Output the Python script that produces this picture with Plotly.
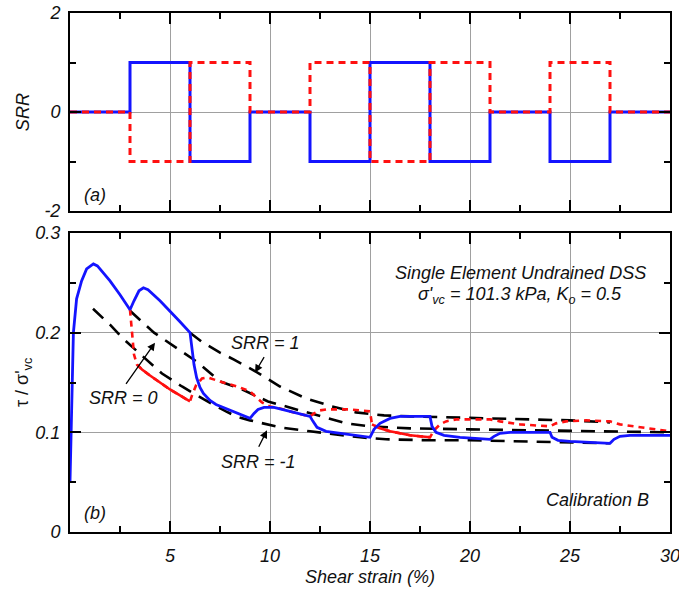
import plotly.graph_objects as go
from plotly.subplots import make_subplots

# ---- (a) shear rate reversal history: SRR held constant over each 3 % strain block
block_edges = [0, 3, 6, 9, 12, 15, 18, 21, 24, 27, 30]
srr_blue = [0, 1, -1, 0, -1, 1, -1, 0, -1, 0]
srr_red = [0, -1, 1, 0, 1, -1, 1, 0, 1, 0]

# ---- (b) normalised shear stress vs shear strain
blue_strain = [0, 0.05, 0.1, 0.17, 0.33, 0.58, 0.83, 1.17, 1.37, 2.0, 2.5, 3.0,
               3.2, 3.45, 3.67, 3.9, 4.5, 5.0, 5.5, 6.0, 6.1, 6.2, 6.33, 6.5,
               6.67, 7.0, 7.3, 8.0, 8.5, 9.0, 9.2, 9.4, 9.7, 10.2, 11.0, 12.0,
               12.15, 12.35, 12.8, 13.5, 14.2, 15.0, 15.2, 15.5, 16.0, 16.5,
               18.0, 18.1, 18.3, 18.7, 19.5, 21.0, 21.2, 21.5, 22.0, 24.0,
               24.1, 24.4, 25.0, 27.0, 27.2, 27.5, 28.0, 30.0]
blue_tau = [0.050, 0.100, 0.140, 0.200, 0.234, 0.252, 0.264, 0.269, 0.267, 0.252,
            0.238, 0.223, 0.232, 0.242, 0.245, 0.243, 0.232, 0.222, 0.211, 0.200,
            0.185, 0.168, 0.155, 0.145, 0.139, 0.132, 0.128, 0.122, 0.118, 0.114,
            0.119, 0.123, 0.125, 0.125, 0.121, 0.116, 0.111, 0.105, 0.101, 0.099,
            0.097, 0.095, 0.103, 0.109, 0.114, 0.116, 0.116, 0.106, 0.100, 0.097,
            0.095, 0.093, 0.096, 0.099, 0.100, 0.100, 0.095, 0.092, 0.091, 0.089,
            0.093, 0.096, 0.097, 0.097]

red_strain = [3.0, 3.05, 3.1, 3.2, 3.35, 3.6, 4.0, 4.5, 5.0, 5.5, 6.0, 6.1, 6.3,
              6.6, 6.9, 7.5, 8.0, 8.5, 9.0, 9.3, 9.6, 10.0, 10.5, 11.0, 12.0,
              12.2, 12.5, 12.8, 14.0, 15.0, 15.05, 15.1, 15.5, 16.0, 17.0, 18.0,
              18.2, 18.5, 18.8, 19.3, 21.0, 21.5, 22.5, 24.0, 24.3, 24.8, 25.8,
              27.0, 27.5, 28.5, 30.0]
red_tau = [0.223, 0.210, 0.195, 0.178, 0.168, 0.163, 0.157, 0.150, 0.143, 0.137,
           0.131, 0.137, 0.147, 0.154, 0.155, 0.151, 0.148, 0.145, 0.141, 0.135,
           0.130, 0.126, 0.124, 0.121, 0.116, 0.119, 0.122, 0.123, 0.123, 0.121,
           0.115, 0.108, 0.104, 0.101, 0.097, 0.095, 0.102, 0.108, 0.111, 0.113,
           0.113, 0.111, 0.108, 0.106, 0.109, 0.111, 0.112, 0.111, 0.108, 0.105,
           0.101]
# strain windows where the red case is sheared at SRR = -1 (drawn solid)
red_solid_windows = [(3.35, 6.0), (15.1, 18.0)]

# constant-SRR reference responses
ref_srr1_strain = [6.0, 6.65, 7.5, 8.2, 9.2, 10.5, 11.8, 13.1, 14.3, 15.7, 17.0,
                   19.0, 21.0, 23.0, 25.0, 27.0]
ref_srr1_tau = [0.200, 0.190, 0.180, 0.173, 0.162, 0.146, 0.134, 0.126, 0.120,
                0.117, 0.116, 0.115, 0.114, 0.113, 0.112, 0.110]
ref_srr0_strain = [3.0, 4.2, 5.3, 6.4, 7.5, 8.5, 9.9, 11.8, 13.8, 15.0, 17.0,
                   20.0, 23.0, 26.0, 30.0]
ref_srr0_tau = [0.222, 0.200, 0.185, 0.170, 0.151, 0.144, 0.131, 0.120, 0.109,
                0.106, 0.104, 0.103, 0.102, 0.101, 0.100]
ref_srrm1_strain = [1.15, 2.0, 2.65, 3.7, 4.6, 5.6, 6.7, 7.8, 8.3, 9.0, 10.5,
                    12.0, 13.3, 14.5, 15.8, 18.0, 20.0, 23.0, 25.0, 27.0]
ref_srrm1_tau = [0.224, 0.208, 0.194, 0.175, 0.159, 0.146, 0.133, 0.121, 0.116,
                 0.112, 0.105, 0.101, 0.098, 0.095, 0.093, 0.092, 0.092, 0.091,
                 0.090, 0.089]

BLUE = "#1414ff"
RED = "#ff1010"
FONT = "Liberation Sans"
INK = "#111111"

fig = make_subplots(rows=2, cols=1, shared_xaxes=False, vertical_spacing=0.0)

# step histories (hv steps through block edges)
fig.add_trace(go.Scatter(x=block_edges, y=srr_blue + [srr_blue[-1]], mode="lines",
                         line=dict(color=BLUE, width=3, shape="hv")), row=1, col=1)
fig.add_trace(go.Scatter(x=block_edges, y=srr_red + [srr_red[-1]], mode="lines",
                         line=dict(color=RED, width=3, shape="hv", dash="7px,5px")),
              row=1, col=1)

# reference curves
for xs, ys in [(ref_srr1_strain, ref_srr1_tau), (ref_srr0_strain, ref_srr0_tau),
               (ref_srrm1_strain, ref_srrm1_tau)]:
    fig.add_trace(go.Scatter(x=xs, y=ys, mode="lines",
                             line=dict(color="black", width=2.6, dash="14px,9px")),
                  row=2, col=1)

# red response: dashed overall, solid during SRR = -1 shearing
fig.add_trace(go.Scatter(x=red_strain, y=red_tau, mode="lines",
                         line=dict(color=RED, width=2.6, dash="6px,5px")), row=2, col=1)
for lo, hi in red_solid_windows:
    sx = [x for x in red_strain if lo <= x <= hi]
    sy = [y for x, y in zip(red_strain, red_tau) if lo <= x <= hi]
    fig.add_trace(go.Scatter(x=sx, y=sy, mode="lines",
                             line=dict(color=RED, width=2.6)), row=2, col=1)

fig.add_trace(go.Scatter(x=blue_strain, y=blue_tau, mode="lines",
                         line=dict(color=BLUE, width=2.8)), row=2, col=1)

tickfont = dict(family=FONT, size=18, color=INK, style="italic")
axis_common = dict(showline=True, linecolor="black", linewidth=2, mirror="ticks",
                   ticks="inside", ticklen=11, tickwidth=2, tickcolor="black",
                   showgrid=True, gridcolor="#a0a0a0", gridwidth=1, zeroline=False,
                   automargin=False, tickfont=tickfont, ticklabeloverflow="allow")

fig.update_xaxes(range=[0, 30], tickvals=[5, 10, 15, 20, 25, 30],
                 ticktext=["5", "10", "15", "20", "25", "30"],
                 minor=dict(ticks="inside", ticklen=6, tickwidth=2,
                            tickcolor="black", dtick=2.5, tick0=0, showgrid=False),
                 **axis_common)
fig.update_xaxes(showticklabels=False, row=1, col=1)
fig.update_xaxes(ticklabelstandoff=6, row=2, col=1)

fig.update_yaxes(range=[-2, 2], tickvals=[-2, 0, 2], ticktext=["-2", "0", "2"],
                 minor=dict(ticks="inside", ticklen=6, tickwidth=2,
                            tickcolor="black", dtick=1, tick0=0, showgrid=False),
                 row=1, col=1, **axis_common)
fig.update_yaxes(range=[0, 0.3], tickvals=[0, 0.1, 0.2, 0.3],
                 ticktext=["0", "0.1", "0.2", "0.3"],
                 minor=dict(ticks="inside", ticklen=6, tickwidth=2,
                            tickcolor="black", dtick=0.05, tick0=0, showgrid=False),
                 row=2, col=1, **axis_common)
fig.update_yaxes(ticklabelstandoff=4)

fig.update_layout(
    xaxis=dict(domain=[0, 1]), xaxis2=dict(domain=[0, 1]),
    yaxis=dict(domain=[0.6185, 1.0]), yaxis2=dict(domain=[0.0, 0.5761]),
)

ital = dict(family=FONT, size=18, color=INK)
ann = []
# panel letters
ann.append(dict(x=1.25, y=-1.68, xref="x", yref="y", text="<i>(a)</i>",
                showarrow=False, font=ital))
ann.append(dict(x=1.25, y=0.019, xref="x2", yref="y2", text="<i>(b)</i>",
                showarrow=False, font=ital))
# test description
ann.append(dict(x=22.5, y=0.26, xref="x2", yref="y2",
                text="<i>Single Element Undrained DSS</i>", showarrow=False, font=ital))
ann.append(dict(x=22.5, y=0.237, xref="x2", yref="y2",
                text="<i>σ'<sub>vc</sub> = 101.3 kPa, K<sub>o</sub> = 0.5</i>",
                showarrow=False, font=ital))
ann.append(dict(x=26.35, y=0.032, xref="x2", yref="y2",
                text="<i>Calibration B</i>", showarrow=False, font=ital))
# reference curve labels with pointers
for label, (tx, ty), (ax0, ay0), (hx, hy) in [
    ("SRR = 1", (9.75, 0.19), (9.75, 0.177), (9.25, 0.160)),
    ("SRR = 0", (2.65, 0.134), (2.75, 0.147), (4.25, 0.190)),
    ("SRR = -1", (9.4, 0.070), (9.4, 0.084), (9.85, 0.102)),
]:
    ann.append(dict(x=tx, y=ty, xref="x2", yref="y2", text=f"<i>{label}</i>",
                    showarrow=False, font=ital))
    ann.append(dict(x=hx, y=hy, xref="x2", yref="y2", ax=ax0, ay=ay0,
                    axref="x2", ayref="y2", text="", showarrow=True,
                    arrowhead=2, arrowsize=1.2, arrowwidth=1.3, arrowcolor="black"))
# axis titles
ann.append(dict(x=0, y=0.809, xref="paper", yref="paper", text="<i>SRR</i>",
                xanchor="center", yanchor="middle",
                xshift=-47, textangle=-90, showarrow=False, font=ital))
ann.append(dict(x=0, y=0.287, xref="paper", yref="paper",
                text="τ / σ'<sub>vc</sub>", xanchor="center", yanchor="middle",
                xshift=-47, textangle=-90, showarrow=False, font=ital))
ann.append(dict(x=0.5, y=0, xref="paper", yref="paper", yshift=-45,
                xanchor="center", yanchor="middle",
                text="<i>Shear strain (%)</i>", showarrow=False, font=ital))

fig.update_layout(
    annotations=ann,
    width=679, height=589,
    margin=dict(l=70, r=9, t=13, b=57),
    plot_bgcolor="white", paper_bgcolor="white",
    showlegend=False,
    font=dict(family=FONT),
)

fig.write_html("out.html")
